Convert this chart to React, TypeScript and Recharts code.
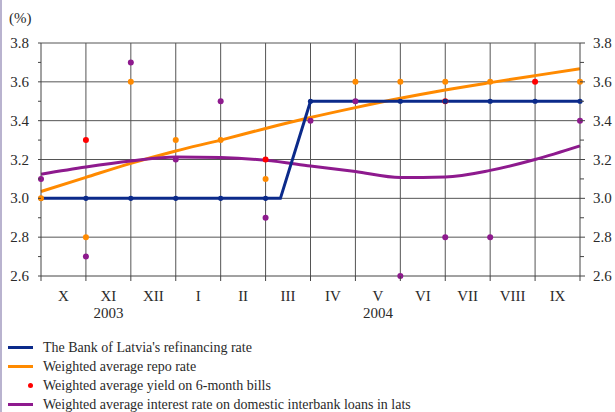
import React from 'react';
import { ComposedChart, Line, Scatter, XAxis, YAxis, CartesianGrid } from 'recharts';

// month boundaries are 0..12 (start of X 2003 to end of IX 2004)
const months = ['X', 'XI', 'XII', 'I', 'II', 'III', 'IV', 'V', 'VI', 'VII', 'VIII', 'IX'];
const yearLabels: Record<string, string> = { XI: '2003', V: '2004' };
const monthEdges = [0, 1, 2, 3, 4, 5, 6, 7, 8, 9, 10, 11, 12];
const monthCentres = [0.5, 1.5, 2.5, 3.5, 4.5, 5.5, 6.5, 7.5, 8.5, 9.5, 10.5, 11.5];
const yTicks = [2.6, 2.7, 2.8, 2.9, 3.0, 3.1, 3.2, 3.3, 3.4, 3.5, 3.6, 3.7, 3.8];
const yGrid = [2.8, 3.0, 3.2, 3.4, 3.6, 3.8];

const refinancingX = [0, 1, 2, 3, 4, 5, 5.33, 6, 7, 8, 9, 10, 11, 12];
const refinancingRate = [3.0, 3.0, 3.0, 3.0, 3.0, 3.0, 3.0, 3.5, 3.5, 3.5, 3.5, 3.5, 3.5, 3.5];

const repoTrend = [3.035, 3.108, 3.18, 3.244, 3.3, 3.36, 3.416, 3.467, 3.515, 3.558, 3.596, 3.632, 3.667];
const interbankTrend = [3.124, 3.161, 3.192, 3.213, 3.21, 3.196, 3.167, 3.138, 3.107, 3.11, 3.144, 3.2, 3.27];

const repoX = [0, 1, 2, 3, 4, 5, 7, 8, 9, 10, 12];
const repoRate = [3.0, 2.8, 3.6, 3.3, 3.3, 3.1, 3.6, 3.6, 3.6, 3.6, 3.6];

const billsX = [1, 5, 9, 11];
const billsYield = [3.3, 3.2, 3.5, 3.6];

const interbankX = [0, 1, 2, 3, 4, 5, 6, 7, 8, 9, 10, 12];
const interbankRate = [3.1, 2.7, 3.7, 3.2, 3.5, 2.9, 3.4, 3.5, 2.6, 2.8, 2.8, 3.4];

const BLUE = '#0b2a8a';
const ORANGE = '#ff8a00';
const RED = '#ff0000';
const PURPLE = '#8e1a8e';
const FONT = '"Liberation Serif", "Times New Roman", serif';
const TEXT = '#2a2a2a';

const zip = (xs: number[], vs: number[]) => xs.map((x, i) => ({ x, v: vs[i] }));

const refinancingData = zip(refinancingX, refinancingRate);
const repoTrendData = zip(monthEdges, repoTrend);
const interbankTrendData = zip(monthEdges, interbankTrend);
const repoData = zip(repoX, repoRate);
const billsData = zip(billsX, billsYield);
const interbankData = zip(interbankX, interbankRate);

const MonthTick = (props: any) => {
  const { x, y, payload } = props;
  const v = payload.value;
  if (Number.isInteger(v)) {
    return <line x1={x} y1={y} x2={x} y2={y + 5} stroke="#444" />;
  }
  const m = months[Math.floor(v)];
  return (
    <g>
      <text x={x} y={y + 25} textAnchor="middle" style={{ fontFamily: FONT }} fontSize={15} fill={TEXT}>
        {m}
      </text>
      {yearLabels[m] && (
        <text x={x} y={y + 42} textAnchor="middle" style={{ fontFamily: FONT }} fontSize={15} fill={TEXT}>
          {yearLabels[m]}
        </text>
      )}
    </g>
  );
};

const isMajor = (v: number) => Math.round(v * 10) % 2 === 0;

const LeftTick = (props: any) => {
  const { x, y, payload } = props;
  return (
    <g>
      <line x1={x - 3} y1={y} x2={x} y2={y} stroke="#444" />
      {isMajor(payload.value) && (
        <text x={x - 12} y={y + 5} textAnchor="end" style={{ fontFamily: FONT }} fontSize={15} fill={TEXT}>
          {payload.value.toFixed(1)}
        </text>
      )}
    </g>
  );
};

const RightTick = (props: any) => {
  const { x, y, payload } = props;
  const major = isMajor(payload.value);
  return (
    <g>
      <line x1={x} y1={y} x2={x + (major ? 5 : 4)} y2={y} stroke="#444" />
      {major && (
        <text x={x + 13} y={y + 5} textAnchor="start" style={{ fontFamily: FONT }} fontSize={15} fill={TEXT}>
          {payload.value.toFixed(1)}
        </text>
      )}
    </g>
  );
};

const dotShape = (color: string) => (p: any) => <circle cx={p.cx} cy={p.cy} r={3} fill={color} />;

const refiDot = (p: any) =>
  Number.isInteger(p.payload.x) ? (
    <circle key={`d${p.index}`} cx={p.cx} cy={p.cy} r={2.6} fill={BLUE} />
  ) : (
    <g key={`d${p.index}`} />
  );

const legendItems = [
  { label: "The Bank of Latvia's refinancing rate", color: BLUE, kind: 'line' },
  { label: 'Weighted average repo rate', color: ORANGE, kind: 'line' },
  { label: 'Weighted average yield on 6-month bills', color: RED, kind: 'dot' },
  { label: 'Weighted average interest rate on domestic interbank loans in lats', color: PURPLE, kind: 'line' },
];

export default function App() {
  return (
    <div
      style={{
        position: 'absolute',
        left: 0,
        top: 0,
        width: 615,
        height: 412,
        overflow: 'hidden',
        background: '#fff',
        fontFamily: FONT,
        color: TEXT,
      }}
    >
      <div style={{ position: 'absolute', left: 0, top: 0, width: 2, height: 412, background: '#b9b3cf' }} />
      <div style={{ position: 'absolute', left: 9, top: 9, fontSize: 15, lineHeight: '19px' }}>(%)</div>

      <ComposedChart width={615} height={330} margin={{ top: 43, right: 0, bottom: 0, left: 0 }}>
        <CartesianGrid
          stroke="#555"
          horizontalValues={yGrid}
          verticalValues={monthEdges.slice(1, 12)}
        />
        <XAxis
          dataKey="x"
          type="number"
          domain={[0, 12]}
          ticks={[...monthEdges, ...monthCentres].sort((a, b) => a - b)}
          interval={0}
          tickSize={0}
          tickMargin={0}
          tickLine={false}
          tick={<MonthTick />}
          axisLine={{ stroke: '#444' }}
          height={54}
        />
        <YAxis
          type="number"
          domain={[2.6, 3.8]}
          ticks={yTicks}
          interval={0}
          width={41}
          tickSize={0}
          tickMargin={0}
          tickLine={false}
          tick={<LeftTick />}
          axisLine={{ stroke: '#444' }}
        />
        <YAxis
          yAxisId="right"
          orientation="right"
          type="number"
          domain={[2.6, 3.8]}
          ticks={yTicks}
          interval={0}
          width={35}
          tickSize={0}
          tickMargin={0}
          tickLine={false}
          tick={<RightTick />}
          axisLine={{ stroke: '#444' }}
          allowDataOverflow
        />
        <Line
          data={repoTrendData}
          dataKey="v"
          type="monotone"
          stroke={ORANGE}
          strokeWidth={3}
          dot={false}
          isAnimationActive={false}
        />
        <Line
          data={interbankTrendData}
          dataKey="v"
          type="monotone"
          stroke={PURPLE}
          strokeWidth={3}
          dot={false}
          isAnimationActive={false}
        />
        <Scatter data={billsData.filter((d) => d.v === 3.5)} dataKey="v" shape={dotShape(RED)} isAnimationActive={false} />
        <Line
          data={refinancingData}
          dataKey="v"
          type="linear"
          stroke={BLUE}
          strokeWidth={3}
          dot={refiDot}
          isAnimationActive={false}
        />
        <Scatter data={repoData} dataKey="v" shape={dotShape(ORANGE)} isAnimationActive={false} />
        <Scatter data={interbankData} dataKey="v" shape={dotShape(PURPLE)} isAnimationActive={false} />
        <Scatter data={billsData.filter((d) => d.v !== 3.5)} dataKey="v" shape={dotShape(RED)} isAnimationActive={false} />
      </ComposedChart>

      <div style={{ position: 'absolute', left: 0, top: 338, fontSize: 14, lineHeight: '19px' }}>
        {legendItems.map((item) => (
          <div key={item.label} style={{ display: 'flex', alignItems: 'center', height: 19, whiteSpace: 'nowrap' }}>
            <div style={{ width: 43, position: 'relative', height: 19 }}>
              {item.kind === 'line' ? (
                <div style={{ position: 'absolute', left: 8, top: 8, width: 25, height: 3, background: item.color }} />
              ) : (
                <div
                  style={{
                    position: 'absolute',
                    left: 28,
                    top: 7,
                    width: 5,
                    height: 5,
                    borderRadius: '50%',
                    background: item.color,
                  }}
                />
              )}
            </div>
            <span>{item.label}</span>
          </div>
        ))}
      </div>
    </div>
  );
}
